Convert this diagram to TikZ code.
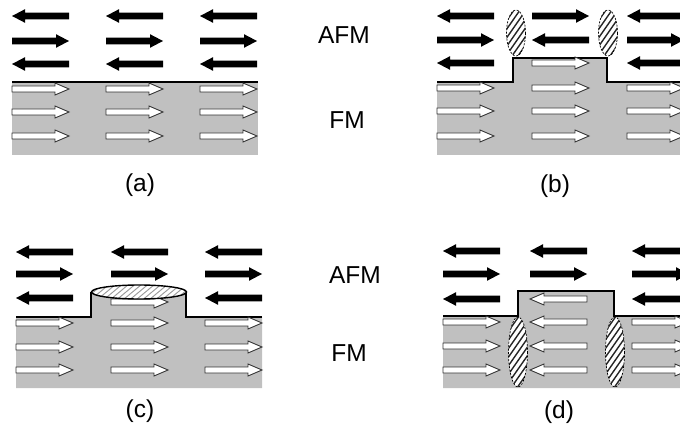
\documentclass[tikz,border=0pt]{standalone}
\usepackage{fontspec}
\setmainfont{Liberation Sans}

\definecolor{fmgray}{RGB}{192,192,192}

\tikzset{
  % spin arrows, origin at the left end, 57 units long
  blackR/.pic={\fill[black] (0,-3.4) -- (44,-3.4) -- (44,-6.8) -- (57,0) -- (44,6.8) -- (44,3.4) -- (0,3.4) -- cycle;},
  blackL/.pic={\fill[black] (57,-3.4) -- (13,-3.4) -- (13,-6.8) -- (0,0) -- (13,6.8) -- (13,3.4) -- (57,3.4) -- cycle;},
  whiteR/.pic={\filldraw[fill=white,draw=black!80,line width=0.9pt] (0,-3) -- (43,-3) -- (43,-6) -- (57,0) -- (43,6) -- (43,3) -- (0,3) -- cycle;},
  whiteL/.pic={\filldraw[fill=white,draw=black!80,line width=0.9pt] (57,-3) -- (14,-3) -- (14,-6) -- (0,0) -- (14,6) -- (14,3) -- (57,3) -- cycle;},
  fmregion/.style={fill=fmgray},
  interface/.style={line width=2.5pt,line join=miter},
  wallhatch/.style={black!85,line width=1.4pt},
  wallrim/.style={draw=black,dash pattern=on 2pt off 1.5pt,line width=0.7pt},
  tophatch/.style={black!40,line width=0.9pt},
  toprim/.style={draw=black,line width=1.4pt},
  lbl/.style={font=\fontsize{24.5}{28}\selectfont,inner sep=0pt},
}

% hatched ellipse: centre x, centre y, x radius, y radius, line spacing, hatch style, rim style
\newcommand\HatchEll[7]{%
  \fill[white] (#1,#2) ellipse [x radius=#3, y radius=#4];
  \begin{scope}
    \clip (#1,#2) ellipse [x radius=#3, y radius=#4];
    \foreach \k in {-16,...,16}
      \draw[#6] ({#1+\k*#5-30},{#2+43}) -- ({#1+\k*#5+30},{#2-43});
  \end{scope}
  \path[#7] (#1,#2) ellipse [x radius=#3, y radius=#4];
}
\newcommand\FlatHatchEll[7]{%
  \fill[white] (#1,#2) ellipse [x radius=#3, y radius=#4];
  \begin{scope}
    \clip (#1,#2) ellipse [x radius=#3, y radius=#4];
    \foreach \k in {-16,...,16}
      \draw[#6] ({#1+\k*#5-12},{#2+10}) -- ({#1+\k*#5+12},{#2-10});
  \end{scope}
  \path[#7] (#1,#2) ellipse [x radius=#3, y radius=#4];
}

\begin{document}
\begin{tikzpicture}[x=1pt,y=-1pt]
\clip (0,0) rectangle (680,430);
\fill[white] (0,0) rectangle (680,430);

% ---------- (a) flat interface ----------
\fill[fmregion] (12,82) rectangle (258,155);
\draw[interface] (12,82) -- (258,82);
\foreach \x in {12,106,200}{
  \pic at (\x,16) {blackL};
  \pic at (\x,41) {blackR};
  \pic at (\x,64) {blackL};
  \pic at (\x,89) {whiteR};
  \pic at (\x,112) {whiteR};
  \pic at (\x,136) {whiteR};
}

% ---------- (b) step, walls in the AFM ----------
\fill[fmregion] (437,82) -- (513,82) -- (513,58) -- (607,58) -- (607,82) -- (680,82) -- (680,155) -- (437,155) -- cycle;
\draw[interface] (437,82) -- (513,82) -- (513,58) -- (607,58) -- (607,82) -- (681,82);
\foreach \x in {437,627}{
  \pic at (\x,16) {blackL};
  \pic at (\x,40) {blackR};
  \pic at (\x,63) {blackL};
}
\pic at (532,16) {blackR};
\pic at (532,40) {blackL};
\pic at (532,63) {whiteR};
\foreach \x in {437,532,627}{
  \pic at (\x,88) {whiteR};
  \pic at (\x,111) {whiteR};
  \pic at (\x,136) {whiteR};
}
\HatchEll{516}{33}{9.5}{23}{6}{wallhatch}{wallrim}
\HatchEll{608}{33}{9.5}{23}{6}{wallhatch}{wallrim}

% ---------- (c) step, uncompensated top ----------
\fill[fmregion] (16,317) -- (91,317) -- (91,292) -- (186,292) -- (186,317) -- (262,317) -- (262,388) -- (16,388) -- cycle;
\draw[interface] (16,317) -- (91,317) -- (91,292);
\draw[interface] (186,292) -- (186,317) -- (262,317);
\foreach \x in {16,205}{
  \pic at (\x,252) {blackL};
  \pic at (\x,274) {blackR};
  \pic at (\x,298) {blackL};
}
\pic at (111,252) {blackL};
\pic at (111,274) {blackR};
\pic at (111,302) {whiteR};
\foreach \x in {16,111,205}{
  \pic at (\x,323) {whiteR};
  \pic at (\x,347) {whiteR};
  \pic at (\x,370) {whiteR};
}
\FlatHatchEll{139}{292}{47.5}{7}{6.5}{tophatch}{toprim}

% ---------- (d) step, walls in the FM ----------
\fill[fmregion] (443,316) -- (518,316) -- (518,291) -- (614,291) -- (614,316) -- (680,316) -- (680,388) -- (443,388) -- cycle;
\draw[interface] (443,316) -- (518,316) -- (518,291) -- (614,291) -- (614,316) -- (681,316);
\foreach \x in {443,530,632}{
  \pic at (\x,251) {blackL};
  \pic at (\x,274) {blackR};
}
\pic at (443,299) {blackL};
\pic at (632,299) {blackL};
\pic at (530,299) {whiteL};
\foreach \x in {443,632}{
  \pic at (\x,322) {whiteR};
  \pic at (\x,346) {whiteR};
  \pic at (\x,370) {whiteR};
}
\pic at (530,322) {whiteL};
\pic at (530,346) {whiteL};
\pic at (530,370) {whiteL};
\HatchEll{518}{352}{9.5}{35}{6}{wallhatch}{wallrim}
\HatchEll{615}{352}{9.5}{35}{6}{wallhatch}{wallrim}

% ---------- labels ----------
\node[lbl] (afm1) at (344,35) {AFM};
\node[lbl] (fm1)  at (347,120) {FM};
\node[lbl] (afm2) at (355,275) {AFM};
\node[lbl] (fm2)  at (349,353) {FM};
\node[lbl] (capa) at (140,185) {(a)};
\node[lbl] (capb) at (555,186) {(b)};
\node[lbl] (capc) at (140,411) {(c)};
\node[lbl] (capd) at (559,412) {(d)};
\end{tikzpicture}
\end{document}
